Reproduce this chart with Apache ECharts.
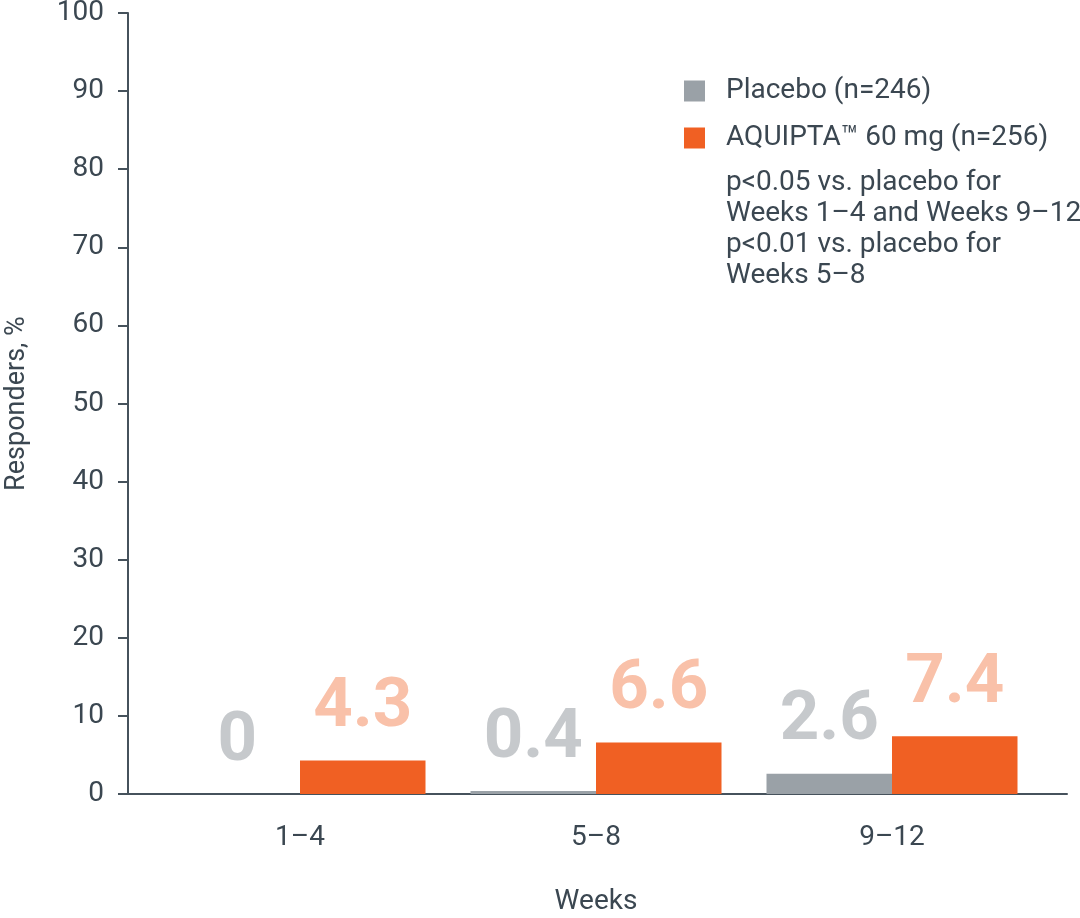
<!DOCTYPE html>
<html>
<head>
<meta charset="utf-8">
<script src="https://cdn.jsdelivr.net/npm/echarts@6/dist/echarts.min.js"></script>
<style>
  html, body { margin: 0; padding: 0; background: #fff; }
  #chart { width: 1080px; height: 918px; }
</style>
</head>
<body>
<div id="chart"></div>
<script>
  // data
  const weeks = ["1–4", "5–8", "9–12"];
  const placebo = [0, 0.4, 2.6];
  const aquipta = [4.3, 6.6, 7.4];
  const seriesNames = ["Placebo (n=246)", "AQUIPTA™ 60 mg (n=256)"];
  const yMin = 0;
  const yMax = 100;
  const yStep = 10;
  const footnote = [
    "p<0.05 vs. placebo for",
    "Weeks 1–4 and Weeks 9–12",
    "p<0.01 vs. placebo for",
    "Weeks 5–8",
  ];

  const textColor = "#3b4751";
  const axisColor = "#46525c";
  const font = "Roboto";

  const chart = echarts.init(document.getElementById("chart"));

  const valueLabel = (color) => ({
    show: true,
    position: "top",
    distance: 17,
    formatter: "{c}",
    fontFamily: font,
    fontSize: 69,
    fontWeight: "bold",
    lineHeight: 69,
    color: color,
  });

  const option = {
    animation: false,
    title: {
      text: footnote.join("\n"),
      left: 721,
      top: 162,
      textStyle: {
        fontFamily: font,
        fontSize: 28,
        fontWeight: "normal",
        lineHeight: 31,
        color: textColor,
      },
    },
    legend: {
      orient: "vertical",
      left: 679,
      top: 72,
      itemWidth: 21,
      itemHeight: 21,
      itemGap: 19,
      icon: "rect",
      textStyle: {
        fontFamily: font,
        fontSize: 28,
        color: textColor,
        padding: [0, 0, 0, 16],
      },
      data: seriesNames,
    },
    grid: [
      { left: 152, right: 40, top: 13, bottom: 124, outerBoundsMode: "none" },
      { left: 128, right: 13, top: 13, bottom: 124, outerBoundsMode: "none" },
    ],
    xAxis: [
      {
        type: "category",
        gridIndex: 0,
        data: weeks,
        axisLine: { show: false },
        axisTick: { show: false },
        axisLabel: {
          fontFamily: font,
          fontSize: 28,
          color: textColor,
          margin: 30,
        },
        name: "Weeks",
        nameLocation: "middle",
        nameGap: 94,
        nameTextStyle: { fontFamily: font, fontSize: 28, color: textColor },
      },
      {
        type: "value",
        gridIndex: 1,
        min: 0,
        max: 1,
        splitLine: { show: false },
        axisTick: { show: false },
        axisLabel: { show: false },
        axisLine: { show: true, lineStyle: { color: axisColor, width: 2 } },
      },
    ],
    yAxis: [
      {
        type: "value",
        gridIndex: 0,
        min: yMin,
        max: yMax,
        interval: yStep,
        offset: 24,
        splitLine: { show: false },
        axisLine: { show: true, lineStyle: { color: axisColor, width: 2 } },
        axisTick: { show: true, length: 10, lineStyle: { color: axisColor, width: 2 } },
        axisLabel: {
          fontFamily: font,
          fontSize: 28,
          color: textColor,
          margin: 24,
        },
        name: "Responders, %",
        nameLocation: "middle",
        nameGap: 97,
        nameTextStyle: { fontFamily: font, fontSize: 27, color: textColor },
      },
      {
        type: "value",
        gridIndex: 1,
        show: false,
      },
    ],
    series: [
      {
        name: seriesNames[0],
        type: "bar",
        xAxisIndex: 0,
        yAxisIndex: 0,
        data: placebo,
        barWidth: 125.5,
        barGap: "0%",
        itemStyle: { color: "#9aa1a7" },
        label: valueLabel("#c6c9cc"),
        z: 3,
      },
      {
        name: seriesNames[1],
        type: "bar",
        xAxisIndex: 0,
        yAxisIndex: 0,
        data: aquipta,
        barWidth: 125.5,
        barGap: "0%",
        itemStyle: { color: "#f06023" },
        label: valueLabel("#f9c1a9"),
        z: 3,
      },
    ],
  };

  chart.setOption(option);
</script>
</body>
</html>
